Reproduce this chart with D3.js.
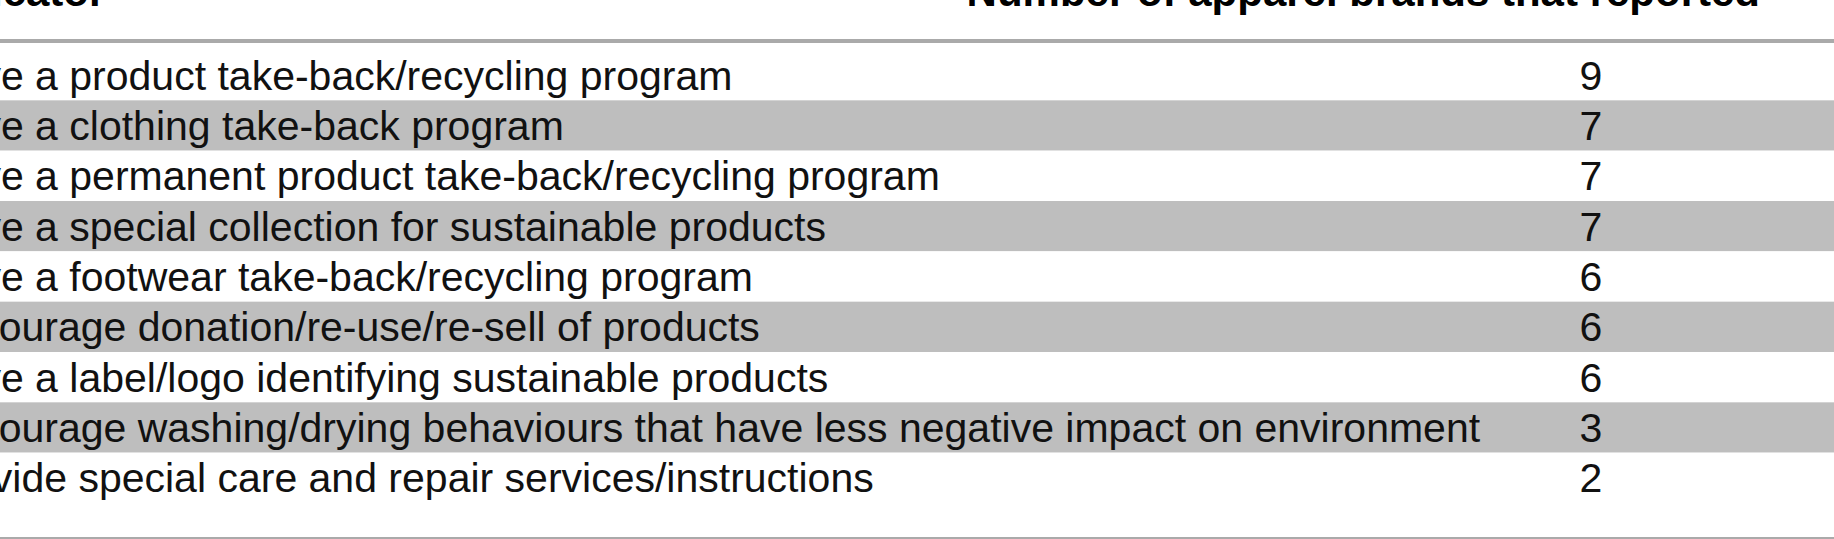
<!DOCTYPE html>
<html><head><meta charset="utf-8">
<script src="https://cdn.jsdelivr.net/npm/d3@7"></script>
<style>body{margin:0;background:#fff}svg{display:block}</style>
</head><body>
<script>
var indicators = [
	"Have a product take-back/recycling program",
	"Have a clothing take-back program",
	"Have a permanent product take-back/recycling program",
	"Have a special collection for sustainable products",
	"Have a footwear take-back/recycling program",
	"Encourage donation/re-use/re-sell of products",
	"Have a label/logo identifying sustainable products",
	"Encourage washing/drying behaviours that have less negative impact on environment",
	"Provide special care and repair services/instructions"
];
var counts = [9, 7, 7, 7, 6, 6, 6, 3, 2];
var headers = ["Indicator", "Number of apparel brands that reported"];

var width = 1834, height = 539, fs = 41;
var svg = d3.select("body").append("svg").attr("width", width).attr("height", height)
	.style("font-family", "'Liberation Sans', Arial, sans-serif");

var y = d3.scaleBand().domain(d3.range(indicators.length)).range([50, 503]).padding(0);

// striped rows
svg.selectAll("rect.row").data(indicators).enter().append("rect")
	.attr("class", "row")
	.attr("x", 0).attr("width", width)
	.attr("y", function(d, i) { return y(i); })
	.attr("height", y.bandwidth())
	.attr("fill", function(d, i) { return i % 2 ? "#bebebe" : "#fff"; });

// header (cut off at top)
svg.append("text").attr("x", -72).attr("y", 6).attr("font-size", 42).attr("font-weight", "bold").text(headers[0]);
svg.append("text").attr("x", 1760).attr("y", 6).attr("font-size", 42).attr("font-weight", "bold")
	.attr("text-anchor", "end").text(headers[1]);

svg.append("rect").attr("x", 0).attr("y", 39).attr("width", width).attr("height", 4).attr("fill", "#aaa");
svg.append("rect").attr("x", 0).attr("y", 537).attr("width", width).attr("height", 2).attr("fill", "#aaa");

svg.selectAll("text.lab").data(indicators).enter().append("text")
	.attr("class", "lab")
	.attr("x", -72)
	.attr("y", function(d, i) { return y(i) + y.bandwidth() / 2; })
	.attr("dy", "0.35em").attr("font-size", fs).attr("fill", "#111")
	.text(function(d) { return d; });

svg.selectAll("text.num").data(counts).enter().append("text")
	.attr("class", "num")
	.attr("x", 1591).attr("text-anchor", "middle")
	.attr("y", function(d, i) { return y(i) + y.bandwidth() / 2; })
	.attr("dy", "0.35em").attr("font-size", fs).attr("fill", "#111")
	.text(function(d) { return d; });
</script>
</body></html>
